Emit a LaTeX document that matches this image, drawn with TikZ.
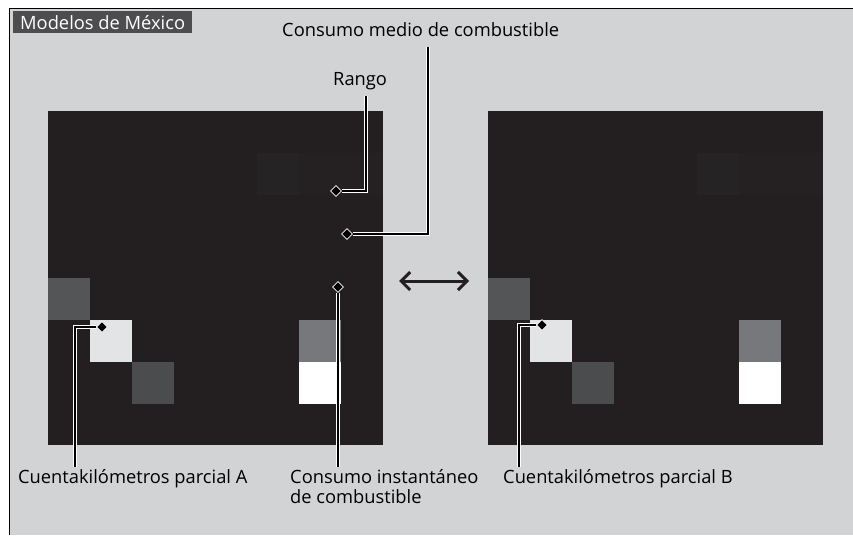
\documentclass[tikz,border=0pt]{standalone}
\usepackage{fontspec}
\setmainfont{Open Sans}
\usetikzlibrary{arrows.meta,positioning,shapes.geometric}
\definecolor{bggray}{HTML}{D1D3D4}
\definecolor{panelblk}{HTML}{231F20}
\definecolor{faintblk}{HTML}{262324}
\definecolor{titlegray}{HTML}{4D4D4F}
\definecolor{darkcell}{HTML}{545557}
\definecolor{midcell}{HTML}{77787B}
\definecolor{lightcell}{HTML}{E3E4E5}

\begin{document}
\begin{tikzpicture}[x=1pt,y=-1pt,
 every node/.style={font=\fontsize{18.3}{20}\selectfont},
 lbl/.style={inner sep=0pt,anchor=base west},
 pin/.style={diamond,draw=white,fill=black,line width=0.8pt,inner sep=0pt,minimum size=11pt},
 lead/.style={line width=1.8pt,preaction={draw=white,line width=3.8pt}}]
\useasboundingbox (0,0) rectangle (853,535);
\fill[bggray] (9,9) rectangle (853,535);
\draw[line width=1pt] (9,535) -- (9,9) -- (853,9);
\node[fill=titlegray,text=white,anchor=north west,inner xsep=7pt,inner ysep=0pt,minimum height=22pt] (ttl) at (13,11) {Modelos de México};
% the two displays
\foreach \ox in {48,488}{
 \fill[panelblk] (\ox,111) rectangle ++(335,334);
 \fill[faintblk] (\ox+209,153) rectangle ++(42,42);
 \fill[faintblk!60!panelblk] (\ox+251,153) rectangle ++(84,42);
 \fill[darkcell] (\ox,278) rectangle ++(42,42);
 \fill[lightcell] (\ox+42,320) rectangle ++(42,42);
 \fill[darkcell!90!black] (\ox+84,362) rectangle ++(42,42);
 \fill[midcell] (\ox+251,320) rectangle ++(42,42);
 \fill[white] (\ox+251,362) rectangle ++(42,42);
}
\coordinate (swL) at (399,281);
\coordinate (swR) at (469,281);
\draw[{Straight Barb[length=9pt,width=18pt]}-{Straight Barb[length=9pt,width=18pt]},line width=3pt,panelblk] (swL) -- (swR);
% labels
\node[lbl] (avg) at (282,37) {Consumo medio de combustible};
\node[lbl] (rng) at (333,85) {Rango};
\node[lbl] (tripA) at (18,483) {Cuentakilómetros parcial A};
\node[lbl,align=left] (inst) at (290,503) {Consumo instantáneo\\de combustible};
\node[lbl] (tripB) at (503,483) {Cuentakilómetros parcial B};
% pointers
\node[pin] (pRng) at (336,191) {};
\node[pin] (pAvg) at (347,234) {};
\node[pin] (pInst) at (338,287) {};
\node[pin] (pA) at (102,327) {};
\node[pin] (pB) at (542,325) {};
\coordinate (cRng) at (366,96);
\coordinate (cAvg) at (428,47);
\coordinate (cInst) at (338,467);
\coordinate (cA) at (75,467);
\coordinate (cB) at (519,467);
\draw[lead] (pRng) -| (cRng);
\draw[lead] (pAvg) -| (cAvg);
\draw[lead] (pInst) -- (cInst);
\draw[lead] (pA) -| (cA);
\draw[lead] (pB) -| (cB);
\end{tikzpicture}
\end{document}
